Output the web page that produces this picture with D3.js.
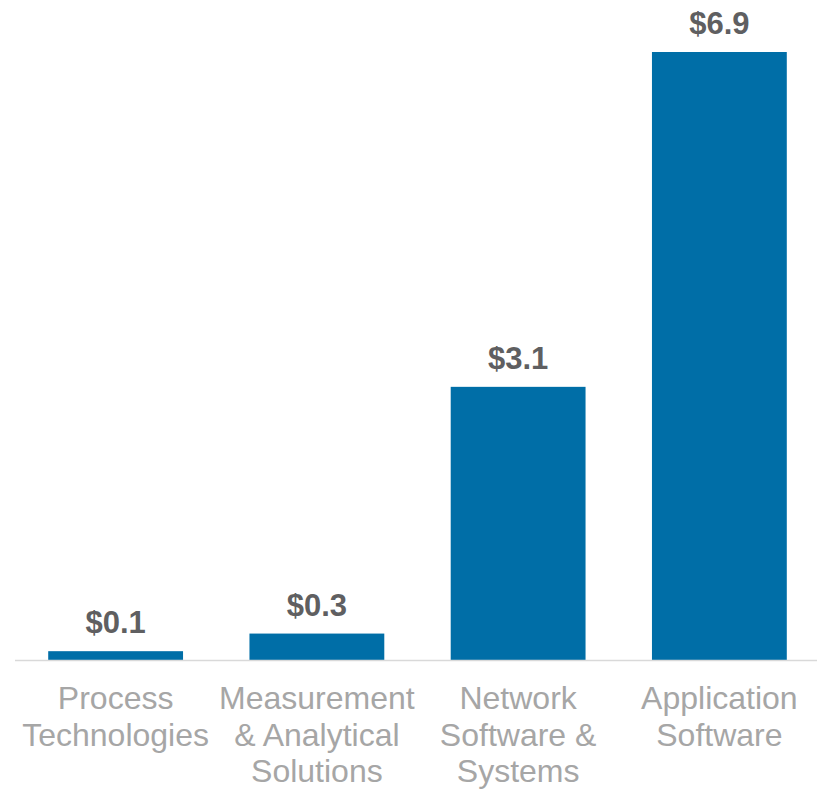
<!DOCTYPE html>
<html>
<head>
<meta charset="utf-8">
<script src="https://cdn.jsdelivr.net/npm/d3@7"></script>
<style>
  html, body { margin: 0; padding: 0; background: #ffffff; }
  svg { display: block; }
</style>
</head>
<body>
<script>
// Revenue by segment ($ billions)
const categories = [
  "Process Technologies",
  "Measurement & Analytical Solutions",
  "Network Software & Systems",
  "Application Software"
];
const values = [0.1, 0.3, 3.1, 6.9];
const valueLabels = ["$0.1", "$0.3", "$3.1", "$6.9"];

const W = 817, H = 789;
const baseline = 660;

const svg = d3.select("body").append("svg")
  .attr("width", W)
  .attr("height", H);

const x = d3.scaleBand()
  .domain(categories)
  .range([15, 820])
  .paddingInner(0.33)
  .paddingOuter(0.165);

const y = d3.scaleLinear()
  .domain([0, 6.9])
  .range([baseline, 52]);

const data = categories.map((c, i) => ({ cat: c, value: values[i], label: valueLabels[i] }));

// bars
svg.append("g")
  .selectAll("rect")
  .data(data)
  .join("rect")
  .attr("x", d => x(d.cat))
  .attr("width", x.bandwidth())
  .attr("y", d => y(d.value))
  .attr("height", d => y(0) - y(d.value))
  .attr("fill", "#006ea7");

// baseline axis
const xAxis = svg.append("g")
  .attr("transform", `translate(0,${baseline + 0.5})`)
  .call(d3.axisBottom(x).tickSize(0).tickFormat(""));
xAxis.select(".domain")
  .attr("d", `M15,0H${W}`)
  .attr("stroke", "#d9d9d9")
  .attr("stroke-width", 1.5);

// value labels
svg.append("g")
  .selectAll("text")
  .data(data)
  .join("text")
  .attr("x", d => x(d.cat) + x.bandwidth() / 2)
  .attr("y", d => y(d.value) - 18)
  .attr("text-anchor", "middle")
  .attr("font-family", "'Liberation Sans', Arial, sans-serif")
  .attr("font-weight", "bold")
  .attr("font-size", 31)
  .attr("fill", "#5f5f61")
  .text(d => d.label);

// category labels, wrapped to the band step
const labelG = svg.append("g")
  .attr("font-family", "'Liberation Sans', Arial, sans-serif")
  .attr("font-size", 32)
  .attr("fill", "#a6a6a6")
  .attr("text-anchor", "middle");

const maxW = x.step() - 2;
data.forEach(d => {
  const cx = x(d.cat) + x.bandwidth() / 2;
  const t = labelG.append("text").attr("x", cx).attr("y", 709);
  const words = d.cat.split(" ");
  let line = [];
  let tspan = t.append("tspan").attr("x", cx).attr("dy", 0);
  words.forEach(w => {
    line.push(w);
    tspan.text(line.join(" "));
    if (tspan.node().getComputedTextLength() > maxW && line.length > 1) {
      line.pop();
      tspan.text(line.join(" "));
      line = [w];
      tspan = t.append("tspan").attr("x", cx).attr("dy", 36.5).text(w);
    }
  });
});
</script>
</body>
</html>
